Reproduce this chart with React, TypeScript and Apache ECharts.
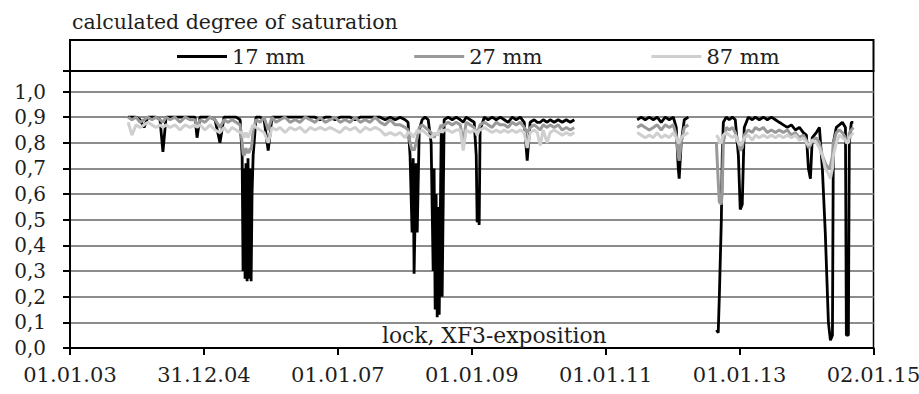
import { useEffect, useRef } from 'react';
import * as echarts from 'echarts';

const FONT = '"DejaVu Serif", serif';

const tickLabels = ['01.01.03', '31.12.04', '01.01.07', '01.01.09', '01.01.11', '01.01.13', '02.01.15'];
const yMax = 1.08;
const titleText = 'calculated degree of saturation';
const noteText = 'lock, XF3-exposition';
const seriesNames = ['17 mm', '27 mm', '87 mm'];

const dates = [
  '2003-11-14','2003-12-05','2003-12-27','2004-01-18','2004-02-09','2004-03-01','2004-03-23','2004-04-14','2004-05-06','2004-05-22',
  '2004-06-08','2004-06-30','2004-07-27','2004-08-23','2004-09-20','2004-10-17','2004-11-13','2004-11-24','2004-12-10','2005-01-06',
  '2005-02-03','2005-03-02','2005-03-29','2005-04-20','2005-05-12','2005-06-03','2005-06-25','2005-07-17','2005-07-28','2005-08-02',
  '2005-08-07','2005-08-13','2005-08-18','2005-08-24','2005-08-29','2005-09-04','2005-09-09','2005-09-15','2005-09-20','2005-09-26',
  '2005-10-12','2005-11-03','2005-11-25','2005-12-17','2006-01-07','2006-01-29','2006-02-20','2006-03-19','2006-04-15','2006-05-13',
  '2006-06-09','2006-07-07','2006-08-03','2006-08-30','2006-09-26','2006-10-24','2006-11-20','2006-12-17','2007-01-13','2007-02-10',
  '2007-03-09','2007-04-05','2007-05-03','2007-05-30','2007-06-26','2007-07-24','2007-08-20','2007-09-16','2007-10-14','2007-11-10',
  '2007-12-07','2008-01-03','2008-01-19','2008-01-30','2008-02-10','2008-02-16','2008-02-21','2008-03-03','2008-03-09','2008-03-20',
  '2008-04-05','2008-04-21','2008-05-08','2008-05-24','2008-06-04','2008-06-09','2008-06-15','2008-06-20','2008-06-26','2008-07-01',
  '2008-07-07','2008-07-12','2008-07-18','2008-07-23','2008-08-03','2008-08-25','2008-09-16','2008-10-08','2008-10-30','2008-11-15',
  '2008-12-01','2008-12-23','2009-01-14','2009-01-25','2009-01-30','2009-02-05','2009-02-10','2009-02-15','2009-03-10','2009-03-31',
  '2009-04-22','2009-05-14','2009-06-05','2009-06-27','2009-07-18','2009-08-09','2009-08-31','2009-09-22','2009-10-14','2009-10-30',
  '2009-11-15','2009-12-07','2009-12-24','2010-01-09','2010-01-25','2010-02-16','2010-03-04','2010-03-26','2010-04-17','2010-05-09',
  '2010-05-31','2010-06-22','2010-07-14','2010-12-01','2011-06-22','2011-07-14','2011-08-05','2011-08-27','2011-09-18','2011-10-09',
  '2011-10-31','2011-11-22','2011-12-14','2012-01-05','2012-01-21','2012-02-01','2012-02-06','2012-02-17','2012-03-05','2012-03-27',
  '2012-06-01','2012-08-27','2012-09-06','2012-09-12','2012-09-23','2012-09-28','2012-10-04','2012-10-20','2012-11-05','2012-11-22',
  '2012-12-08','2012-12-25','2013-01-04','2013-01-15','2013-01-26','2013-02-17','2013-03-11','2013-03-27','2013-04-18','2013-05-10',
  '2013-06-01','2013-06-23','2013-07-15','2013-08-05','2013-08-27','2013-09-18','2013-10-10','2013-11-01','2013-11-23','2013-12-14',
  '2013-12-31','2014-01-11','2014-01-22','2014-02-01','2014-02-23','2014-03-12','2014-03-28','2014-04-13','2014-04-30','2014-05-11',
  '2014-05-22','2014-05-27','2014-06-12','2014-06-29','2014-07-15','2014-08-01','2014-08-06','2014-08-17','2014-08-22','2014-09-02',
  '2014-09-13',
];

const mm17 = [
  .90,.90,.90,.89,.86,.90,.90,.90,.89,.765,
  .90,.90,.90,.90,.90,.90,.90,.82,.90,.90,
  .90,.89,.80,.90,.90,.90,.90,.89,.75,.30,
  .70,.27,.72,.26,.74,.27,.70,.26,.60,.75,
  .90,.90,.89,.77,.90,.90,.90,.90,.90,.90,
  .90,.90,.90,.90,.89,.90,.90,.89,.90,.90,
  .90,.89,.90,.90,.90,.90,.90,.89,.90,.89,
  .90,.89,.88,.75,.45,.74,.29,.72,.45,.85,
  .89,.90,.89,.80,.30,.70,.15,.60,.12,.55,
  .13,.45,.84,.20,.89,.90,.89,.90,.89,.88,
  .90,.89,.88,.75,.49,.60,.48,.85,.90,.89,
  .90,.89,.90,.89,.88,.90,.89,.90,.88,.73,
  .88,.89,.88,.88,.89,.88,.89,.88,.89,.88,
  .89,.88,.89,null,.89,.90,.89,.90,.89,.90,
  .88,.90,.89,.90,.86,.70,.66,.80,.89,.90,
  null,.07,.06,.20,.50,.75,.88,.90,.89,.90,
  .89,.75,.54,.56,.86,.90,.89,.90,.89,.90,
  .89,.90,.89,.88,.87,.86,.87,.85,.86,.84,
  .83,.70,.66,.82,.84,.86,.70,.45,.10,.03,
  .05,.80,.86,.87,.88,.86,.05,.05,.80,.88,
  .88,
];

const mm27 = [
  .90,.89,.90,.88,.89,.90,.89,.90,.89,.88,
  .90,.89,.90,.88,.90,.89,.89,.86,.89,.88,
  .90,.89,.86,.89,.88,.89,.88,.87,.80,.76,
  .75,.76,.78,.76,.77,.76,.78,.77,.80,.85,
  .89,.88,.90,.85,.90,.88,.89,.90,.88,.89,
  .88,.90,.89,.88,.90,.88,.89,.90,.88,.89,
  .88,.90,.88,.89,.88,.90,.88,.87,.89,.87,
  .87,.86,.85,.80,.77,.78,.77,.80,.82,.86,
  .87,.86,.85,.84,.83,.82,.83,.84,.83,.84,
  .85,.86,.87,.86,.87,.88,.87,.88,.87,.80,
  .88,.87,.86,.84,.84,.85,.86,.87,.88,.87,
  .86,.88,.87,.87,.86,.88,.87,.88,.86,.84,
  .86,.87,.86,.85,.87,.86,.87,.86,.87,.85,
  .86,.85,.86,null,.86,.87,.86,.85,.86,.87,
  .85,.87,.86,.87,.83,.75,.73,.80,.86,.87,
  null,.80,.65,.57,.56,.62,.80,.86,.85,.86,
  .84,.80,.77,.78,.83,.85,.84,.86,.85,.86,
  .84,.85,.84,.85,.84,.85,.83,.84,.82,.83,
  .81,.78,.79,.81,.82,.80,.75,.72,.70,.71,
  .75,.80,.84,.85,.84,.82,.80,.81,.84,.85,
  .86,
];

const mm87 = [
  .88,.83,.87,.86,.87,.88,.87,.86,.87,.86,
  .87,.86,.87,.85,.87,.86,.87,.86,.87,.85,
  .87,.85,.84,.86,.84,.86,.85,.84,.84,.83,
  .82,.83,.84,.83,.82,.83,.84,.85,.86,.87,
  .86,.85,.84,.80,.86,.85,.86,.84,.86,.85,
  .86,.84,.86,.85,.86,.85,.86,.85,.84,.86,
  .85,.86,.84,.86,.85,.86,.85,.83,.84,.83,
  .84,.82,.84,.84,.83,.82,.83,.84,.85,.84,
  .85,.84,.83,.82,.83,.84,.83,.84,.83,.84,
  .85,.84,.85,.84,.85,.85,.84,.85,.85,.77,
  .85,.84,.85,.84,.83,.84,.85,.85,.86,.85,
  .84,.85,.84,.85,.84,.85,.84,.85,.84,.78,
  .84,.85,.84,.79,.85,.80,.84,.85,.84,.83,
  .84,.83,.84,null,.84,.83,.82,.83,.82,.84,
  .82,.83,.82,.84,.82,.80,.80,.82,.83,.84,
  null,.83,.82,.80,.80,.82,.83,.84,.83,.82,
  .83,.80,.79,.80,.82,.83,.81,.83,.82,.83,
  .82,.83,.82,.83,.82,.83,.82,.83,.81,.82,
  .80,.79,.80,.81,.80,.78,.75,.70,.68,.66,
  .70,.75,.80,.83,.82,.81,.80,.80,.82,.83,
  .84,
];

const DAY0 = Date.UTC(2003, 0, 1);
const STEP = 730.5;
const toDay = (d: string) => (Date.parse(d) - DAY0) / 86400000;
const pairs = (vals: (number | null)[]) =>
  dates.map((d, i) => [toDay(d), vals[i] == null ? '-' : vals[i]]);

export default function App() {
  const ref = useRef<HTMLDivElement>(null);
  useEffect(() => {
    if (!ref.current) return;
    const chart = echarts.init(ref.current, undefined, { renderer: 'svg' });
    const txt = { fontFamily: FONT, fontSize: 20, color: '#1e1e1e' };
    chart.setOption({
      animation: false,
      backgroundColor: '#fff',
      title: {
        text: titleText,
        left: 72,
        top: 11,
        padding: 0,
        textStyle: { ...txt, fontSize: 20.5, fontWeight: 'normal' },
      },
      legend: {
        data: seriesNames,
        left: 177,
        top: 46,
        padding: 0,
        icon: 'rect',
        itemWidth: 50,
        itemHeight: 3,
        itemGap: 109,
        z: 10,
        textStyle: { ...txt, fontSize: 21 },
      },
      grid: {
        left: 70,
        right: 45.5,
        top: 71,
        bottom: 46,
        show: true,
        borderColor: '#000',
        borderWidth: 1.5,
        outerBoundsMode: 'none',
        containLabel: false,
      },
      xAxis: {
        type: 'value',
        min: 0,
        max: STEP * 6,
        interval: STEP,
        axisLine: { show: true, onZero: false, lineStyle: { color: '#000', width: 2 } },
        axisTick: { show: true, length: 7, lineStyle: { color: '#000', width: 2 } },
        splitLine: { show: false },
        axisLabel: {
          ...txt,
          fontSize: 21,
          margin: 16,
          formatter: (v: number) => tickLabels[Math.round(v / STEP)] ?? '',
        },
      },
      yAxis: {
        type: 'value',
        min: 0,
        max: yMax,
        interval: 0.1,
        axisLine: { show: true, onZero: false, lineStyle: { color: '#000', width: 2 } },
        axisTick: { show: true, length: 7, lineStyle: { color: '#000', width: 2 } },
        splitLine: { show: true, lineStyle: { color: '#8c8c8c', width: 2 } },
        axisLabel: {
          ...txt,
          margin: 24,
          formatter: (v: number) =>
            v > 1.001 ? '' : (Math.round(v * 10) / 10).toFixed(1).replace('.', ','),
        },
      },
      graphic: [
        {
          type: 'rect',
          z: 5,
          shape: { x: 70, y: 40, width: 803.5, height: 31 },
          style: { fill: '#fff', stroke: '#000', lineWidth: 2 },
        },
        {
          type: 'text',
          z: 6,
          left: 382,
          top: 324,
          style: { text: noteText, font: `21.8px ${FONT}`, fill: '#1e1e1e' },
        },
      ],
      series: [
        {
          name: seriesNames[0],
          type: 'line',
          data: pairs(mm17),
          showSymbol: false,
          symbol: 'none',
          connectNulls: false,
          lineStyle: { color: '#000', width: 2.8 },
          itemStyle: { color: '#000' },
          z: 2,
        },
        {
          name: seriesNames[1],
          type: 'line',
          data: pairs(mm27),
          showSymbol: false,
          symbol: 'none',
          connectNulls: false,
          lineStyle: { color: '#999', width: 3 },
          itemStyle: { color: '#999' },
          z: 3,
        },
        {
          name: seriesNames[2],
          type: 'line',
          data: pairs(mm87),
          showSymbol: false,
          symbol: 'none',
          connectNulls: false,
          lineStyle: { color: '#cfcfcf', width: 3 },
          itemStyle: { color: '#cfcfcf' },
          z: 4,
        },
      ],
    });
    return () => chart.dispose();
  }, []);
  return (
    <div
      ref={ref}
      style={{ position: 'fixed', left: 0, top: 0, width: 919, height: 394, background: '#fff' }}
    />
  );
}
